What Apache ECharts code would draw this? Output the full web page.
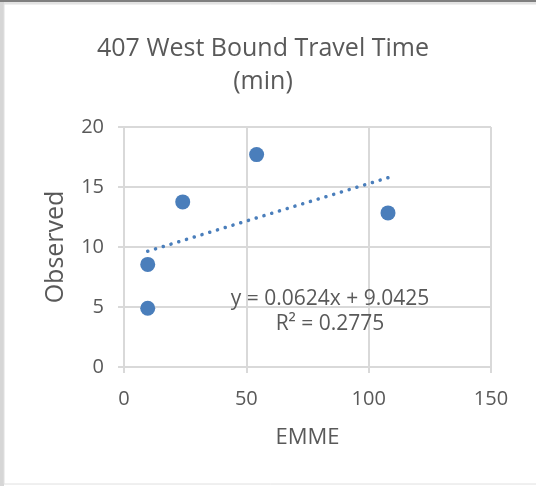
<!DOCTYPE html>
<html>
<head>
<meta charset="utf-8">
<script src="https://cdn.jsdelivr.net/npm/echarts@6/dist/echarts.min.js"></script>
<style>
  html, body { margin: 0; padding: 0; background: #fff; }
  #chart { width: 536px; height: 486px; }
</style>
</head>
<body>
<div id="chart"></div>
<script>
// EMME modelled vs observed travel times (minutes)
const emme = [9.7, 9.7, 24.0, 54.2, 107.9];
const observed = [8.55, 4.9, 13.76, 17.7, 12.84];

// Linear trendline as reported
const slope = 0.0624;
const intercept = 9.0425;
const rSquared = 0.2775;

const xTicks = [0, 50, 100, 150];
const yTicks = [0, 5, 10, 15, 20];

const xMin = Math.min(...emme);
const xMax = Math.max(...emme);
const trend = [[xMin, slope * xMin + intercept], [xMax, slope * xMax + intercept]];

const textColor = '#595959';
const gridColor = '#d9d9d9';
const blue = '#4a7ebb';
const font = '"Open Sans", "Liberation Sans", sans-serif';

const chart = echarts.init(document.getElementById('chart'), null, { renderer: 'canvas' });
chart.setOption({
  animation: false,
  backgroundColor: '#fff',
  title: {
    text: '407 West Bound Travel Time\n(min)',
    left: 258,
    textAlign: 'center',
    top: 27,
    textStyle: { color: textColor, fontFamily: font, fontWeight: 'normal', fontSize: 25, lineHeight: 33 }
  },
  graphic: [
    { type: 'rect', shape: { x: 0, y: 0, width: 536, height: 2 }, style: { fill: '#7f7f7f' }, silent: true },
    { type: 'rect', shape: { x: 0, y: 2, width: 536, height: 2 }, style: { fill: '#e3e3e3' }, silent: true },
    { type: 'rect', shape: { x: 0, y: 2, width: 4, height: 484 }, style: { fill: '#d6d6d6' }, silent: true },
    { type: 'rect', shape: { x: 4, y: 4, width: 540, height: 480 }, style: { fill: 'none', stroke: '#e0e0e0', lineWidth: 1 }, silent: true }
  ],
  grid: { left: 124, right: 45, top: 127, bottom: 119, containLabel: false },
  xAxis: {
    type: 'value',
    min: xTicks[0],
    max: xTicks[xTicks.length - 1],
    interval: xTicks[1] - xTicks[0],
    name: 'EMME',
    nameLocation: 'middle',
    nameGap: 60,
    nameTextStyle: { color: textColor, fontFamily: font, fontSize: 22 },
    axisLine: { show: true, lineStyle: { color: gridColor, width: 2 } },
    axisTick: { show: true, length: 6, lineStyle: { color: gridColor, width: 2 } },
    axisLabel: { color: textColor, fontFamily: font, fontSize: 20, margin: 22 },
    splitLine: { show: true, lineStyle: { color: gridColor, width: 2 } }
  },
  yAxis: {
    type: 'value',
    min: yTicks[0],
    max: yTicks[yTicks.length - 1],
    interval: yTicks[1] - yTicks[0],
    name: 'Observed',
    nameLocation: 'middle',
    nameGap: 56,
    nameRotate: 90,
    nameTextStyle: { color: textColor, fontFamily: font, fontSize: 25 },
    axisLine: { show: true, lineStyle: { color: gridColor, width: 2 } },
    axisTick: { show: true, length: 6, lineStyle: { color: gridColor, width: 2 } },
    axisLabel: { color: textColor, fontFamily: font, fontSize: 20, margin: 20 },
    splitLine: { show: true, lineStyle: { color: gridColor, width: 2 } }
  },
  series: [
    {
      type: 'line',
      data: trend,
      symbol: 'none',
      lineStyle: { color: blue, width: 3.5, type: [0.1, 8], cap: 'round' },
      z: 2,
      markPoint: {
        symbol: 'circle',
        symbolSize: 0,
        data: [{ coord: [84.2, 4.65] }],
        label: {
          show: true,
          formatter: 'y = ' + slope + 'x + ' + intercept + '\nR² = ' + rSquared,
          color: textColor,
          fontFamily: font,
          fontSize: 21,
          lineHeight: 25,
          align: 'center'
        }
      }
    },
    {
      type: 'scatter',
      data: emme.map((x, i) => [x, observed[i]]),
      symbol: 'circle',
      symbolSize: 15,
      itemStyle: { color: blue, opacity: 1 },
      z: 3
    }
  ]
});
</script>
</body>
</html>
